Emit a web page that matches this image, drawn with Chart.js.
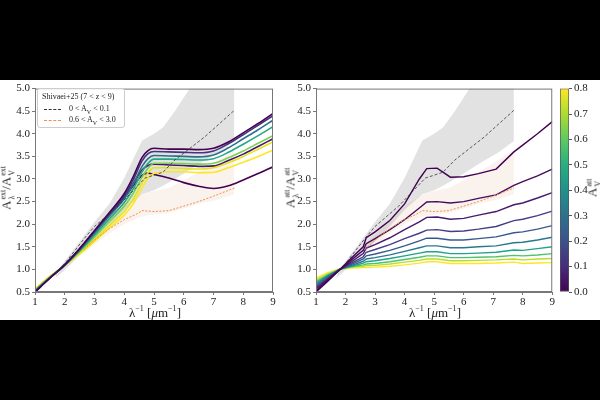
<!DOCTYPE html>
<html>
<head>
<meta charset="utf-8">
<script src="https://cdn.jsdelivr.net/npm/chart.js@4/dist/chart.umd.min.js"></script>
<style>
  html, body { margin: 0; padding: 0; background: #000; }
  #page { position: relative; width: 600px; height: 400px; background: #000; overflow: hidden; font-family: 'Liberation Serif', serif; color: #222; }
  #white { position: absolute; left: 0; top: 80px; width: 600px; height: 240px; background: #fff; }
  canvas { position: absolute; }
  .lbl { position: absolute; white-space: nowrap; font-size: 13px; line-height: 1; }
  .rot { transform: translate(-50%, -50%) rotate(-90deg); }
  .hz { transform: translate(-50%, -50%); }
  .ss { display: inline-flex; flex-direction: column; vertical-align: middle; font-size: 8px; line-height: 8.5px; margin-left: 1px; text-align: left; }
  #legend { position: absolute; left: 37px; top: 88px; width: 86px; height: 38px; border: 1px solid #ccc; border-radius: 3px; background: rgba(255,255,255,0.85); font-size: 8px; }
  #legend .t { position: absolute; left: 4px; top: 3px; }
  #legend .row { position: absolute; left: 6px; }
  #legend .ln { display: inline-block; width: 17px; border-top: 1px dashed #333; vertical-align: middle; margin-right: 8px; }
</style>
</head>
<body>
<div id="page">
  <div id="white"></div>
  <canvas id="left" width="290" height="240" style="left:0;top:80px"></canvas>
  <canvas id="right" width="266" height="240" style="left:290px;top:80px"></canvas>
  <canvas id="cbar" width="44" height="240" style="left:556px;top:80px"></canvas>

  <div class="lbl rot" style="left:8px;top:188px">A<span class="ss"><span>ext</span><span>λ</span></span>/A<span class="ss"><span>ext</span><span>V</span></span></div>
  <div class="lbl rot" style="left:292px;top:188px">A<span class="ss"><span>att</span><span>λ</span></span>/A<span class="ss"><span>att</span><span>V</span></span></div>
  <div class="lbl rot" style="left:594px;top:188px">A<span class="ss"><span>att</span><span>V</span></span></div>
  <div class="lbl hz" style="left:155px;top:312px">λ<sup style="font-size:8px">−1</sup> [<i>μ</i>m<sup style="font-size:8px">−1</sup>]</div>
  <div class="lbl hz" style="left:435px;top:312px">λ<sup style="font-size:8px">−1</sup> [<i>μ</i>m<sup style="font-size:8px">−1</sup>]</div>

  <div id="legend">
    <div class="t">Shivaei+25 (7 &lt; z &lt; 9)</div>
    <div class="row" style="top:15px"><span class="ln"></span>0 &lt; A<sub style="font-size:6px">V</sub> &lt; 0.1</div>
    <div class="row" style="top:26px"><span class="ln" style="border-top-color:#f28e4b"></span>0.6 &lt; A<sub style="font-size:6px">V</sub> &lt; 3.0</div>
  </div>
</div>

<script>
// ---- data ----
const extX = [1, 1.5, 2, 2.5, 3, 3.5, 4, 4.3, 4.6, 4.8, 5, 5.5, 6, 6.5, 7, 7.5, 8, 8.5, 9];
const extCurves = [
  [0.50, 0.81, 1.10, 1.46, 1.86, 2.26, 2.68, 3.05, 3.48, 3.63, 3.68, 3.66, 3.66, 3.65, 3.68, 3.82, 4.02, 4.23, 4.45],
  [0.51, 0.81, 1.10, 1.45, 1.84, 2.23, 2.63, 2.98, 3.40, 3.56, 3.61, 3.60, 3.59, 3.58, 3.62, 3.78, 3.98, 4.19, 4.40],
  [0.52, 0.82, 1.10, 1.43, 1.80, 2.18, 2.56, 2.88, 3.28, 3.45, 3.52, 3.51, 3.50, 3.49, 3.53, 3.69, 3.89, 4.09, 4.30],
  [0.53, 0.82, 1.09, 1.41, 1.76, 2.12, 2.48, 2.78, 3.16, 3.35, 3.44, 3.44, 3.43, 3.42, 3.45, 3.59, 3.77, 3.96, 4.16],
  [0.55, 0.83, 1.09, 1.39, 1.72, 2.06, 2.40, 2.68, 3.04, 3.24, 3.35, 3.35, 3.34, 3.33, 3.35, 3.47, 3.62, 3.79, 3.96],
  [0.51, 0.81, 1.10, 1.45, 1.84, 2.22, 2.60, 2.90, 3.20, 3.30, 3.33, 3.31, 3.30, 3.28, 3.29, 3.41, 3.55, 3.72, 3.89],
  [0.56, 0.84, 1.09, 1.36, 1.66, 1.97, 2.28, 2.55, 2.92, 3.14, 3.25, 3.25, 3.23, 3.22, 3.25, 3.36, 3.50, 3.66, 3.82],
  [0.57, 0.85, 1.09, 1.34, 1.62, 1.92, 2.20, 2.45, 2.80, 3.02, 3.12, 3.16, 3.16, 3.14, 3.15, 3.25, 3.37, 3.50, 3.64],
  [0.50, 0.81, 1.10, 1.45, 1.83, 2.20, 2.58, 2.85, 3.08, 3.13, 3.10, 3.02, 2.92, 2.84, 2.79, 2.85, 2.98, 3.12, 3.27]
];
const extColors = ['#440154', '#46327e', '#2c728e', '#22a884', '#7ad151', '#48186a', '#e5e419', '#fde725', '#440154'];

const attX = [1, 1.4, 1.8, 2.2, 2.6, 2.7, 3, 3.5, 4, 4.5, 4.75, 5.1, 5.55, 6, 6.5, 7.1, 7.7, 8, 8.5, 9];
const attCurves = [
  [0.50, 0.74, 0.99, 1.25, 1.50, 1.70, 1.83, 2.08, 2.45, 3.00, 3.23, 3.24, 3.04, 3.05, 3.12, 3.22, 3.60, 3.75, 4.00, 4.27],
  [0.53, 0.76, 0.99, 1.21, 1.42, 1.57, 1.68, 1.88, 2.10, 2.36, 2.49, 2.50, 2.47, 2.50, 2.57, 2.65, 2.86, 2.94, 3.07, 3.22],
  [0.57, 0.78, 0.99, 1.17, 1.35, 1.47, 1.55, 1.70, 1.88, 2.05, 2.15, 2.16, 2.11, 2.13, 2.20, 2.28, 2.43, 2.47, 2.58, 2.70],
  [0.60, 0.80, 1.00, 1.14, 1.28, 1.38, 1.44, 1.55, 1.68, 1.80, 1.87, 1.88, 1.84, 1.85, 1.89, 1.95, 2.08, 2.11, 2.19, 2.29],
  [0.63, 0.82, 1.00, 1.11, 1.23, 1.30, 1.34, 1.42, 1.52, 1.63, 1.69, 1.69, 1.65, 1.65, 1.68, 1.72, 1.81, 1.83, 1.89, 1.97],
  [0.67, 0.84, 1.00, 1.09, 1.18, 1.23, 1.26, 1.32, 1.40, 1.48, 1.52, 1.52, 1.48, 1.48, 1.50, 1.52, 1.59, 1.60, 1.65, 1.71],
  [0.70, 0.86, 1.00, 1.07, 1.14, 1.17, 1.19, 1.24, 1.30, 1.36, 1.39, 1.39, 1.35, 1.35, 1.36, 1.38, 1.43, 1.42, 1.46, 1.50],
  [0.73, 0.88, 1.00, 1.06, 1.10, 1.12, 1.13, 1.17, 1.22, 1.27, 1.30, 1.30, 1.26, 1.26, 1.27, 1.28, 1.31, 1.30, 1.32, 1.35],
  [0.77, 0.90, 1.01, 1.05, 1.07, 1.08, 1.09, 1.12, 1.16, 1.20, 1.23, 1.23, 1.19, 1.19, 1.20, 1.21, 1.23, 1.21, 1.23, 1.24],
  [0.81, 0.93, 1.01, 1.03, 1.04, 1.04, 1.05, 1.07, 1.10, 1.14, 1.17, 1.17, 1.13, 1.13, 1.13, 1.14, 1.16, 1.13, 1.14, 1.15]
];
const attColors = ['#440154', '#450a5c', '#471a6e', '#433e85', '#38598c', '#2a788e', '#20a386', '#4ec36b', '#b8de29', '#fde725'];

// Shivaei+25, 0 < Av < 0.1 (median + band)
const lowAvX = [1.7, 2, 2.7, 3, 3.8, 4.7, 5.3, 5.7, 6.7, 7.7];
const lowAvY = [0.92, 1.13, 1.72, 1.95, 2.40, 3.02, 3.15, 3.42, 3.93, 4.52];
const lowBandX = [1.7, 2, 2.6, 3, 3.5, 4, 4.6, 5, 5.3, 5.7, 6.15, 6.6, 7.2, 7.7];
const lowBandHi = [0.95, 1.18, 1.70, 2.05, 2.45, 3.02, 3.85, 4.00, 4.14, 4.50, 4.95, 5.35, 5.80, 6.10];
const lowBandLo = [0.82, 0.98, 1.38, 1.62, 1.95, 2.32, 2.66, 2.75, 2.85, 3.00, 3.18, 3.37, 3.60, 3.84];

// Shivaei+25, 0.6 < Av < 3.0
const highAvX = [2.65, 3, 3.5, 4, 4.4, 4.6, 5, 5.5, 6, 6.5, 7, 7.7];
const highAvY = [1.44, 1.65, 1.90, 2.10, 2.22, 2.30, 2.28, 2.30, 2.40, 2.50, 2.62, 2.80];
const highBandX = [2.65, 3, 3.5, 4, 4.5, 4.8, 5.5, 6, 6.5, 7, 7.7];
const highBandHi = [1.55, 1.78, 2.10, 2.40, 2.62, 2.70, 2.80, 2.97, 3.15, 3.35, 3.64];
const highBandLo = [1.35, 1.55, 1.80, 2.00, 2.15, 2.20, 2.25, 2.35, 2.45, 2.52, 2.66];

const xTicks = [1, 2, 3, 4, 5, 6, 7, 8, 9];
const yTicks = [0.5, 1.0, 1.5, 2.0, 2.5, 3.0, 3.5, 4.0, 4.5, 5.0];
const cbarTicks = [0, 0.1, 0.2, 0.3, 0.4, 0.5, 0.6, 0.7, 0.8];

Chart.defaults.font.family = "'Liberation Serif', serif";
Chart.defaults.font.size = 11;
Chart.defaults.color = '#222';

function toPts(xs, ys) {
  return xs.map((x, i) => ({ x: x, y: ys[i] }));
}

// frame around the plot area
const framePlugin = {
  id: 'frame',
  afterDraw(chart) {
    const a = chart.chartArea;
    const ctx = chart.ctx;
    ctx.save();
    ctx.strokeStyle = '#777';
    ctx.lineWidth = 1;
    ctx.strokeRect(a.left + 0.5, a.top + 0.5, a.right - a.left - 1, a.bottom - a.top - 1);
    ctx.restore();
  }
};

function shivaeiSets() {
  return [
    { data: toPts(lowAvX, lowAvY), borderColor: '#333', borderWidth: 0.8, borderDash: [3, 2], pointRadius: 0, order: 1 },
    { data: toPts(highAvX, highAvY), borderColor: '#f28e4b', borderWidth: 1, borderDash: [2, 1.5], pointRadius: 0, order: 1 },
    { data: toPts(lowBandX, lowBandLo), borderWidth: 0, pointRadius: 0, order: 10 },
    { data: toPts(lowBandX, lowBandHi), borderWidth: 0, pointRadius: 0, order: 10, fill: '-1', backgroundColor: 'rgba(140,140,140,0.25)' },
    { data: toPts(highBandX, highBandLo), borderWidth: 0, pointRadius: 0, order: 10 },
    { data: toPts(highBandX, highBandHi), borderWidth: 0, pointRadius: 0, order: 10, fill: '-1', backgroundColor: 'rgba(205,125,75,0.1)' }
  ];
}

function axes(yWidth) {
  return {
    x: {
      type: 'linear', min: 1, max: 9,
      afterBuildTicks: s => { s.ticks = xTicks.map(v => ({ value: v })); },
      afterFit: s => { s.height = 28; },
      ticks: { padding: 1, callback: v => String(v) },
      grid: { drawOnChartArea: false, tickLength: 3, color: '#777' },
      border: { color: '#777' }
    },
    y: {
      min: 0.5, max: 5,
      afterBuildTicks: s => { s.ticks = yTicks.map(v => ({ value: v })); },
      afterFit: s => { s.width = yWidth; },
      ticks: { padding: 2, callback: v => v.toFixed(1) },
      grid: { drawOnChartArea: false, tickLength: 3, color: '#777' },
      border: { color: '#777' }
    }
  };
}

function baseOptions(yWidth, padRight) {
  return {
    responsive: false,
    animation: false,
    layout: { padding: { top: 4, right: padRight, left: 0, bottom: 0 } },
    plugins: { legend: { display: false }, tooltip: { enabled: false }, filler: { drawTime: 'beforeDatasetsDraw' } },
    scales: axes(yWidth)
  };
}

// left: extinction curves
const extSets = extCurves.map((ys, i) => ({
  data: toPts(extX, ys),
  borderColor: extColors[i],
  borderWidth: 1.6,
  pointRadius: 0,
  cubicInterpolationMode: 'monotone',
  order: 2
}));

new Chart(document.getElementById('left'), {
  type: 'line',
  data: { datasets: extSets.concat(shivaeiSets()) },
  options: baseOptions(35, 17),
  plugins: [framePlugin]
});

// right: attenuation curves
const attSets = attCurves.map((ys, i) => ({
  data: toPts(attX, ys),
  borderColor: attColors[i],
  borderWidth: 1.4,
  pointRadius: 0,
  tension: 0,
  order: 2
}));

new Chart(document.getElementById('right'), {
  type: 'line',
  data: { datasets: attSets.concat(shivaeiSets()) },
  options: baseOptions(26, 2),
  plugins: [framePlugin]
});

// colour bar
function viridis(c) {
  const a = c.chart.chartArea;
  if (!a) return '#21918c';
  const g = c.chart.ctx.createLinearGradient(0, a.bottom, 0, a.top);
  const stops = ['#440154', '#472d7b', '#3b528b', '#2c728e', '#21918c', '#28ae80', '#5ec962', '#addc30', '#fde725'];
  stops.forEach((col, i) => g.addColorStop(i / (stops.length - 1), col));
  return g;
}

new Chart(document.getElementById('cbar'), {
  type: 'bar',
  data: {
    labels: [''],
    datasets: [{
      data: [[0, 0.8]],
      backgroundColor: viridis,
      borderColor: '#555',
      borderWidth: 1,
      borderSkipped: false,
      barPercentage: 1,
      categoryPercentage: 1
    }]
  },
  options: {
    responsive: false,
    animation: false,
    layout: { padding: { top: 4, left: 4, right: 0, bottom: 28 } },
    plugins: { legend: { display: false }, tooltip: { enabled: false } },
    scales: {
      x: { display: false },
      y: {
        position: 'right', min: 0, max: 0.8,
        afterBuildTicks: s => { s.ticks = cbarTicks.map(v => ({ value: v })); },
        afterFit: s => { s.width = 31; },
        ticks: { padding: 2, callback: v => v.toFixed(1) },
        grid: { drawOnChartArea: false, tickLength: 3, color: '#555' },
        border: { display: false }
      }
    }
  }
});
</script>
</body>
</html>
